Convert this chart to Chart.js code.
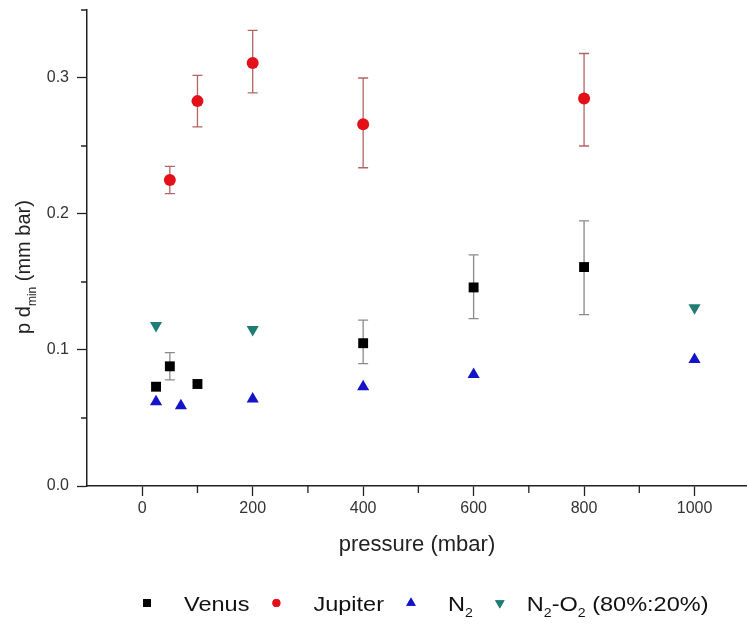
<!DOCTYPE html>
<html>
<head>
<meta charset="utf-8">
<script src="https://cdn.jsdelivr.net/npm/chart.js@4"></script>
<style>
  html, body { margin: 0; padding: 0; background: #fff; }
  #wrap { width: 747px; height: 626px; position: relative; }
</style>
</head>
<body>
<div id="wrap"><canvas id="chart"></canvas></div>
<script>
// values
const venusX = [25, 50, 100, 400, 600, 800];
const venusY = [0.073, 0.088, 0.075, 0.105, 0.146, 0.161];
const venusLow = [null, 0.078, null, 0.090, 0.123, 0.126];
const venusHigh = [null, 0.098, null, 0.122, 0.170, 0.195];

const jupiterX = [50, 100, 200, 400, 800];
const jupiterY = [0.225, 0.283, 0.311, 0.266, 0.285];
const jupiterLow = [0.215, 0.264, 0.289, 0.234, 0.250];
const jupiterHigh = [0.235, 0.302, 0.335, 0.300, 0.318];

const n2X = [25, 70, 200, 400, 600, 1000];
const n2Y = [0.062, 0.059, 0.064, 0.073, 0.082, 0.093];

const n2o2X = [25, 200, 1000];
const n2o2Y = [0.118, 0.115, 0.131];

const seriesNames = ['Venus', 'Jupiter', 'N_2', 'N_2-O_2 (80%:20%)'];
const xTitle = 'pressure (mbar)';
const yTitle = 'p d_{min} (mm bar)';

const FONT = '"Liberation Sans", Arial, Helvetica, sans-serif';

function pts(xs, ys) {
    return xs.map((x, i) => ({ x: x, y: ys[i] }));
}

function isMajorX(v) { return v >= 0 && v % 200 === 0; }
function isMajorY(v) { return Math.round(v * 100) % 10 === 0; }

// split "a_{bc} d" into normal / subscript parts
function parseRich(text) {
    const parts = [];
    let buf = '';
    for (let i = 0; i < text.length; i++) {
        if (text[i] === '_') {
            if (buf) parts.push({ t: buf, sub: false });
            buf = '';
            if (text[i + 1] === '{') {
                const end = text.indexOf('}', i);
                parts.push({ t: text.slice(i + 2, end), sub: true });
                i = end;
            } else {
                parts.push({ t: text[i + 1], sub: true });
                i++;
            }
        } else {
            buf += text[i];
        }
    }
    if (buf) parts.push({ t: buf, sub: false });
    return parts;
}

function richWidth(ctx, text, size) {
    let w = 0;
    parseRich(text).forEach(p => {
        ctx.font = (p.sub ? size * 0.6 : size) + 'px ' + FONT;
        w += ctx.measureText(p.t).width;
    });
    return w;
}

function drawRich(ctx, text, x, y, size) {
    ctx.textBaseline = 'middle';
    ctx.textAlign = 'left';
    parseRich(text).forEach(p => {
        const s = p.sub ? size * 0.6 : size;
        ctx.font = s + 'px ' + FONT;
        ctx.fillText(p.t, x, p.sub ? y + size * 0.42 : y);
        x += ctx.measureText(p.t).width;
    });
}

const errorBars = {
    id: 'errorBars',
    beforeDatasetsDraw(chart) {
        const ctx = chart.ctx;
        const xs = chart.scales.x, ys = chart.scales.y;
        chart.data.datasets.forEach(ds => {
            if (!ds.errLow) return;
            ctx.save();
            ctx.strokeStyle = ds.errColor;
            ctx.lineWidth = 1.3;
            ds.data.forEach((p, i) => {
                if (ds.errLow[i] == null) return;
                const px = xs.getPixelForValue(p.x);
                const lo = ys.getPixelForValue(ds.errLow[i]);
                const hi = ys.getPixelForValue(ds.errHigh[i]);
                ctx.beginPath();
                ctx.moveTo(px, lo); ctx.lineTo(px, hi);
                ctx.moveTo(px - 5, lo); ctx.lineTo(px + 5, lo);
                ctx.moveTo(px - 5, hi); ctx.lineTo(px + 5, hi);
                ctx.stroke();
            });
            ctx.restore();
        });
    }
};

// shorter minor ticks
const minorTicks = {
    id: 'minorTicks',
    afterDraw(chart) {
        const ctx = chart.ctx;
        const xs = chart.scales.x, ys = chart.scales.y;
        ctx.save();
        ctx.strokeStyle = '#222';
        ctx.lineWidth = 1.3;
        ctx.beginPath();
        xs.ticks.forEach(t => {
            if (isMajorX(t.value) || t.value === -100) return;
            const px = xs.getPixelForValue(t.value);
            ctx.moveTo(px, xs.top);
            ctx.lineTo(px, xs.top + 7);
        });
        ys.ticks.forEach(t => {
            if (isMajorY(t.value)) return;
            const py = ys.getPixelForValue(t.value);
            ctx.moveTo(ys.right, py);
            ctx.lineTo(ys.right - 6, py);
        });
        ctx.stroke();
        ctx.restore();
    }
};

const decorations = {
    id: 'decorations',
    afterDraw(chart) {
        const ctx = chart.ctx;
        ctx.save();
        ctx.fillStyle = '#222';

        // y title with subscript
        const size = 20;
        const w = richWidth(ctx, yTitle, size);
        ctx.save();
        ctx.translate(24, 267);
        ctx.rotate(-Math.PI / 2);
        drawRich(ctx, yTitle, -w / 2, 0, size);
        ctx.restore();

        // legend
        const lsize = 21;
        const stretch = 1.12;
        const y = 605;
        const markToText = 37, textToMark = 27;
        let x = 147;
        chart.data.datasets.forEach((ds, i) => {
            ctx.fillStyle = ds.backgroundColor;
            Chart.helpers.drawPoint(ctx, {
                pointStyle: ds.pointStyle,
                rotation: ds.rotation || 0,
                radius: ds.legendRadius
            }, x, y - 2);
            ctx.fill();
            ctx.fillStyle = '#111';
            const gap = i === seriesNames.length - 1 ? 27 : markToText;
            const tx = x + gap;
            ctx.save();
            ctx.translate(tx, y);
            ctx.scale(stretch, 1);
            drawRich(ctx, seriesNames[i], 0, 0, lsize);
            ctx.restore();
            x = tx + richWidth(ctx, seriesNames[i], lsize) * stretch + textToMark;
        });
        ctx.restore();
    }
};

const datasets = [
    {
        label: 'Venus', data: pts(venusX, venusY), errLow: venusLow, errHigh: venusHigh,
        errColor: '#8a8a8a', pointStyle: 'rect', pointRadius: 7, legendRadius: 5.5,
        backgroundColor: '#000', borderColor: '#000', borderWidth: 0
    },
    {
        label: 'Jupiter', data: pts(jupiterX, jupiterY), errLow: jupiterLow, errHigh: jupiterHigh,
        errColor: '#b46464', pointStyle: 'circle', pointRadius: 6, legendRadius: 4,
        backgroundColor: '#e3101a', borderColor: '#e3101a', borderWidth: 0
    },
    {
        label: 'N2', data: pts(n2X, n2Y), pointStyle: 'triangle', pointRadius: 7, legendRadius: 5.5,
        backgroundColor: '#1313c8', borderColor: '#1313c8', borderWidth: 0
    },
    {
        label: 'N2-O2', data: pts(n2o2X, n2o2Y), pointStyle: 'triangle', rotation: 180, pointRadius: 7,
        legendRadius: 5.5,
        backgroundColor: '#1f7d75', borderColor: '#1f7d75', borderWidth: 0
    }
];

new Chart(document.getElementById('chart'), {
    type: 'scatter',
    data: { datasets: datasets },
    options: {
        responsive: true,
        maintainAspectRatio: false,
        animation: false,
        layout: { autoPadding: false, padding: { left: 0, top: 10, right: 0, bottom: 65 } },
        plugins: {
            legend: { display: false },
            tooltip: { enabled: false }
        },
        elements: { point: { hoverRadius: 7 } },
        scales: {
            x: {
                type: 'linear',
                min: -100,
                max: 1095,
                afterFit: s => { s.height = 75; s.paddingLeft = 0; s.paddingRight = 0; },
                afterBuildTicks: s => {
                    s.ticks = [];
                    for (let v = -100; v <= 1000; v += 100) s.ticks.push({ value: v });
                },
                border: { color: '#222', width: 1.5 },
                grid: {
                    drawOnChartArea: false, tickLength: 10, tickWidth: 1.3,
                    tickColor: c => (c.tick && isMajorX(c.tick.value)) ? '#222' : 'rgba(0,0,0,0)'
                },
                ticks: {
                    color: '#333',
                    font: { family: FONT, size: 16 },
                    padding: 3,
                    maxRotation: 0,
                    autoSkip: false,
                    callback: v => isMajorX(v) ? String(v) : ''
                },
                title: {
                    display: true,
                    text: xTitle,
                    color: '#222',
                    font: { family: FONT, size: 22 },
                    padding: { top: 4, bottom: 3 }
                }
            },
            y: {
                type: 'linear',
                min: 0,
                max: 0.35,
                afterFit: s => { s.width = 87; s.paddingTop = 0; s.paddingBottom = 0; },
                afterBuildTicks: s => {
                    s.ticks = [];
                    for (let i = 0; i <= 7; i++) s.ticks.push({ value: i * 0.05 });
                },
                border: { color: '#222', width: 1.5 },
                grid: {
                    drawOnChartArea: false, tickLength: 10, tickWidth: 1.3,
                    tickColor: c => (c.tick && isMajorY(c.tick.value)) ? '#222' : 'rgba(0,0,0,0)'
                },
                ticks: {
                    color: '#333',
                    font: { family: FONT, size: 16 },
                    padding: 8,
                    autoSkip: false,
                    callback: v => isMajorY(v) ? (Math.round(v * 10) / 10).toFixed(1) : ''
                }
            }
        }
    },
    plugins: [errorBars, minorTicks, decorations]
});
</script>
</body>
</html>
